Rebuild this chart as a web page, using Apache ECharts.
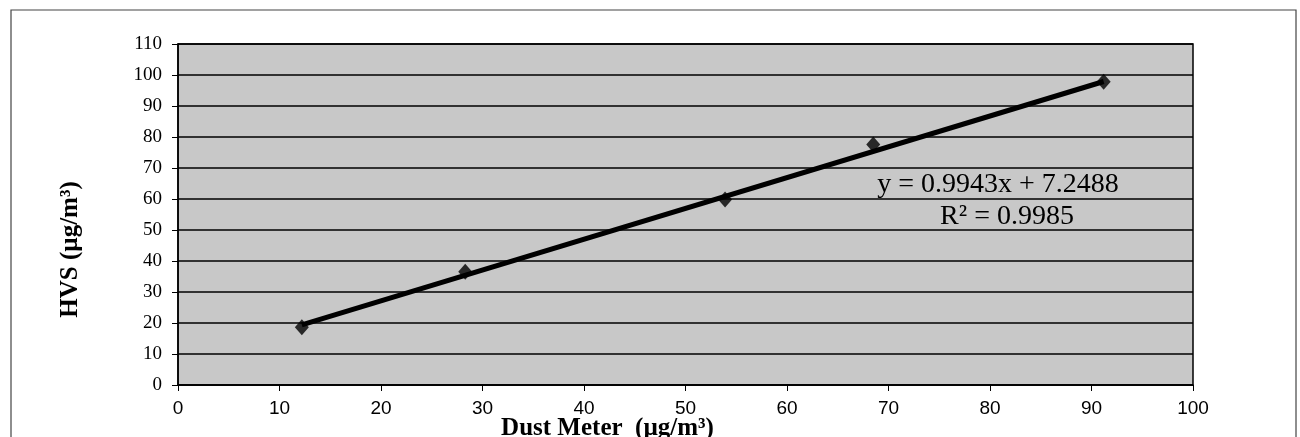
<!DOCTYPE html>
<html><head><meta charset="utf-8">
<script src="https://cdn.jsdelivr.net/npm/echarts@6/dist/echarts.min.js"></script>
<style>html,body{margin:0;padding:0;background:#fff}#c{width:1300px;height:437px}</style>
</head><body><div id="c"></div>
<script>
const dustMeter = [12.2, 28.3, 53.9, 68.5, 91.2];
const hvs = [18.6, 36.5, 59.8, 77.6, 97.8];
const trendX = [12.2, 91.2];
const trendY = [19.4, 97.9];
const xTicks = [0, 10, 20, 30, 40, 50, 60, 70, 80, 90, 100];
const yTicks = [0, 10, 20, 30, 40, 50, 60, 70, 80, 90, 100, 110];
const eqLine1 = 'y = 0.9943x + 7.2488';
const eqLine2 = 'R² = 0.9985';

const chart = echarts.init(document.getElementById('c'));
chart.setOption({
  backgroundColor: '#fff',
  animation: false,
  graphic: [
    {type: 'rect', shape: {x: 11, y: 10, width: 1285, height: 440}, style: {fill: 'none', stroke: '#444', lineWidth: 1.2}, z: -1},
    {type: 'text', x: 998, y: 185, style: {text: eqLine1, font: '28px "Liberation Serif"', fill: '#000', textAlign: 'center', textVerticalAlign: 'middle'}, z: 10},
    {type: 'text', x: 1007, y: 217, style: {text: eqLine2, font: '28px "Liberation Serif"', fill: '#000', textAlign: 'center', textVerticalAlign: 'middle'}, z: 10}
  ],
  grid: {left: 178, right: 107, top: 44, bottom: 52, containLabel: false, outerBoundsMode: 'none', show: true, backgroundColor: '#c8c8c8', borderColor: '#000', borderWidth: 1.5},
  xAxis: {
    type: 'value', min: xTicks[0], max: xTicks[xTicks.length-1], interval: 10,
    name: 'Dust Meter  (µg/m³)', nameLocation: 'middle', nameGap: 31, nameMoveOverlap: false,
    nameTextStyle: {fontFamily: 'Liberation Serif', fontWeight: 'bold', fontSize: 25, color: '#000', padding: [0, 156, 0, 0]},
    axisLine: {show: true, onZero: false, lineStyle: {color: '#000', width: 1.5}},
    axisTick: {show: true, length: 6, lineStyle: {color: '#000'}},
    axisLabel: {fontFamily: 'Liberation Sans', fontSize: 19, color: '#000', margin: 14},
    splitLine: {show: false}
  },
  yAxis: {
    type: 'value', min: yTicks[0], max: yTicks[yTicks.length-1], interval: 10,
    name: 'HVS (µg/m³)', nameLocation: 'middle', nameGap: 95, nameMoveOverlap: false,
    nameTextStyle: {fontFamily: 'Liberation Serif', fontWeight: 'bold', fontSize: 25, color: '#000', padding: [0, 70, 0, 0]},
    axisLine: {show: true, lineStyle: {color: '#000', width: 1.5}},
    axisTick: {show: true, length: 6, lineStyle: {color: '#000'}},
    axisLabel: {fontFamily: 'Liberation Serif', fontSize: 19, color: '#000', margin: 16},
    splitLine: {show: true, lineStyle: {color: '#000', width: 1.5}}
  },
  series: [
    {
      type: 'line', data: trendX.map((x, i) => [x, trendY[i]]),
      symbol: 'none', lineStyle: {color: '#000', width: 5}, z: 2
    },
    {
      type: 'scatter', data: dustMeter.map((x, i) => [x, hvs[i]]),
      symbol: 'diamond', symbolSize: [14, 16], itemStyle: {color: '#000'}, z: 3
    }
  ]
});
</script></body></html>
